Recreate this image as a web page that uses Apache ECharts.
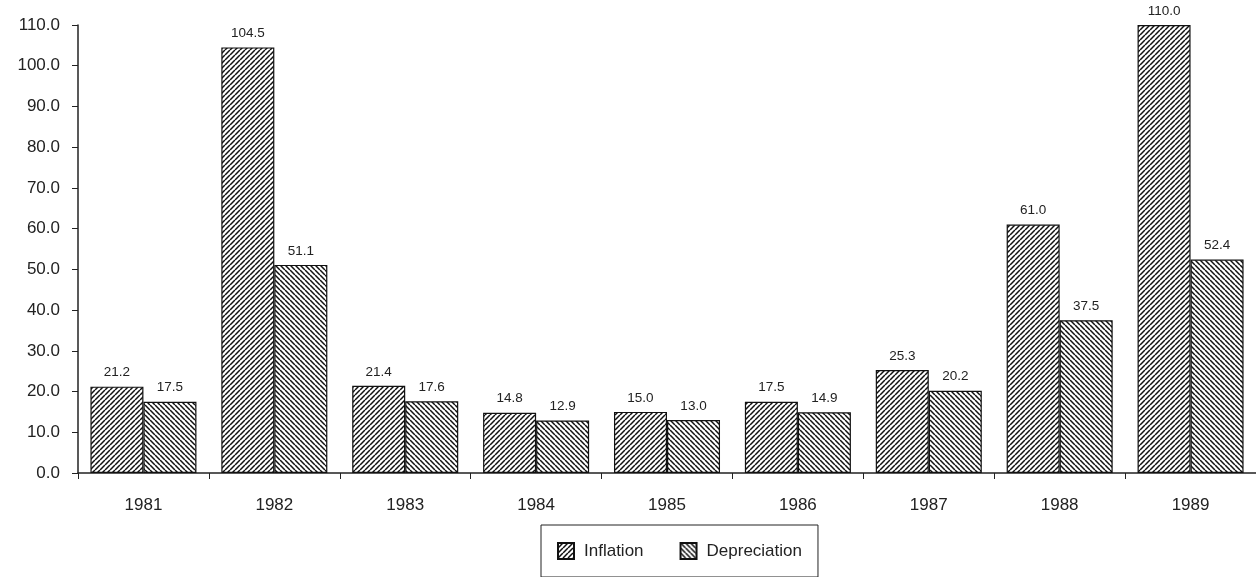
<!DOCTYPE html>
<html>
<head>
<meta charset="utf-8">
<script src="https://cdn.jsdelivr.net/npm/echarts@6/dist/echarts.min.js"></script>
<style>
  html, body { margin: 0; padding: 0; background: #fff; }
  #chart { width: 1256px; height: 577px; }
</style>
</head>
<body>
<div id="chart"></div>
<script>
const years = ['1981', '1982', '1983', '1984', '1985', '1986', '1987', '1988', '1989'];
const inflation = [21.2, 104.5, 21.4, 14.8, 15.0, 17.5, 25.3, 61.0, 110.0];
const depreciation = [17.5, 51.1, 17.6, 12.9, 13.0, 14.9, 20.2, 37.5, 52.4];

// hatch pattern tile, dir 1 = "/" and -1 = "\"
function hatch(dir) {
  const s = 5;
  const c = document.createElement('canvas');
  c.width = s;
  c.height = s;
  const ctx = c.getContext('2d');
  ctx.fillStyle = '#fff';
  ctx.fillRect(0, 0, s, s);
  ctx.strokeStyle = '#111';
  ctx.lineWidth = 1.5;
  ctx.beginPath();
  for (let k = -1; k <= 1; k++) {
    if (dir > 0) {
      ctx.moveTo(k * s, s);
      ctx.lineTo(k * s + s, 0);
    } else {
      ctx.moveTo(k * s, 0);
      ctx.lineTo(k * s + s, s);
    }
  }
  ctx.stroke();
  return c;
}

const font = '"Liberation Sans", Arial, sans-serif';

const chart = echarts.init(document.getElementById('chart'));
chart.setOption({
  animation: false,
  textStyle: { fontFamily: font },
  grid: { left: 78, right: 0, top: 25, bottom: 104 },
  legend: {
    bottom: 0,
    left: 541,
    width: 279,
    height: 56,
    padding: [17, 16, 17, 16],
    itemGap: 36,
    itemWidth: 16,
    itemHeight: 16,
    icon: 'rect',
    borderColor: '#222',
    borderWidth: 1,
    textStyle: { fontSize: 17, color: '#222', fontFamily: font, padding: [0, 0, 0, 5] },
    data: ['Inflation', 'Depreciation']
  },
  xAxis: {
    type: 'category',
    data: years,
    axisLine: { lineStyle: { color: '#222', width: 1.5 } },
    axisTick: { show: true, length: 6, lineStyle: { color: '#222' } },
    axisLabel: { color: '#222', fontSize: 17, margin: 24 }
  },
  yAxis: {
    type: 'value',
    min: 0,
    max: 110,
    interval: 10,
    splitLine: { show: false },
    axisLine: { show: true, lineStyle: { color: '#222', width: 1.5 } },
    axisTick: { show: true, length: 6, lineStyle: { color: '#222' } },
    axisLabel: {
      color: '#222',
      fontSize: 17,
      margin: 18,
      formatter: v => v.toFixed(1)
    }
  },
  series: [
    {
      name: 'Inflation',
      type: 'bar',
      data: inflation,
      barGap: '0%',
      barCategoryGap: '19%',
      itemStyle: {
        color: { image: hatch(1), repeat: 'repeat' },
        borderColor: '#111',
        borderWidth: 1.2
      },
      label: {
        show: true,
        position: 'top',
        distance: 7,
        fontSize: 13.5,
        color: '#222',
        formatter: p => p.value.toFixed(1)
      }
    },
    {
      name: 'Depreciation',
      type: 'bar',
      data: depreciation,
      barGap: '0%',
      barCategoryGap: '19%',
      itemStyle: {
        color: { image: hatch(-1), repeat: 'repeat' },
        borderColor: '#111',
        borderWidth: 1.2
      },
      label: {
        show: true,
        position: 'top',
        distance: 7,
        fontSize: 13.5,
        color: '#222',
        formatter: p => p.value.toFixed(1)
      }
    }
  ]
});
</script>
</body>
</html>
